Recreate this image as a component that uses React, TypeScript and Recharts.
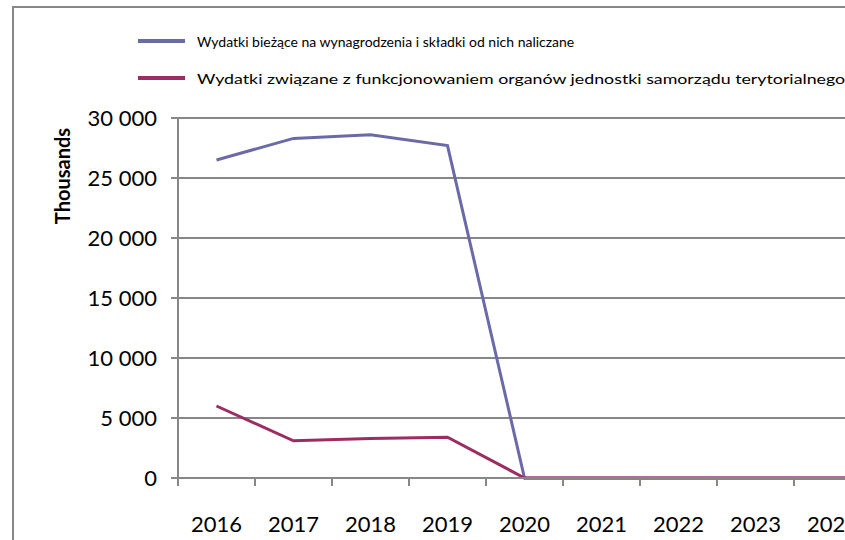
import React from 'react'
import { LineChart, Line, XAxis, YAxis, CartesianGrid, Label } from 'recharts'

// years shown on the category axis (the picture is cut off on the right)
const years = ['2016', '2017', '2018', '2019', '2020', '2021', '2022', '2023', '2024', '2025']

// values in thousands
const wynagrodzenia = [26500, 28300, 28600, 27700, 0, 0, 0, 0, 0, 0]
const organy = [6000, 3100, 3300, 3400, 0, 0, 0, 0, 0, 0]

const yTicks = [0, 5000, 10000, 15000, 20000, 25000, 30000]

const seriesNames = [
  'Wydatki bieżące na wynagrodzenia i składki od nich naliczane',
  'Wydatki związane z funkcjonowaniem organów jednostki samorządu terytorialnego',
]

const COLORS = ['#6a6aa8', '#9b2d62']
const GRID = '#878787'
const FONT = 'Lato, "Liberation Sans", sans-serif'

const PLOT_LEFT = 178
const PLOT_TOP = 118
const PLOT_W = 770
const PLOT_H = 360
const CHART_W = 1100
const CHART_H = 560
const HALF_BAND = PLOT_W / years.length / 2

const data = years.map((year, i) => ({
  year,
  a: wynagrodzenia[i],
  b: organy[i],
}))

const formatThousands = (v: number) =>
  String(v).replace(/\B(?=(\d{3})+(?!\d))/g, ' ')

// label in the middle of the band, tick mark on the band's left edge (Excel style)
function YearTick(props: any) {
  const { x, payload } = props
  const axisY = PLOT_TOP + PLOT_H
  return (
    <g>
      <line x1={x - HALF_BAND} y1={axisY} x2={x - HALF_BAND} y2={axisY + 8} stroke={GRID} strokeWidth={2} />
      <text x={x} y={axisY + 45} textAnchor="middle" dominantBaseline="central" fontSize={22} fill="#000" fontFamily={FONT}>
        {payload.value}
      </text>
    </g>
  )
}

export default function App() {
  return (
    <div style={{ position: 'absolute', left: 0, top: 0, width: 845, height: 540, overflow: 'hidden', background: '#fff' }}>
      <div
        style={{
          position: 'absolute',
          left: 12,
          top: 6,
          width: 1200,
          height: 700,
          border: `2px solid ${GRID}`,
          boxSizing: 'border-box',
        }}
      />
      <div style={{ position: 'absolute', left: 0, top: 0 }}>
        <LineChart
          width={CHART_W}
          height={CHART_H}
          data={data}
          margin={{ top: PLOT_TOP, left: PLOT_LEFT - 90, right: CHART_W - PLOT_LEFT - PLOT_W, bottom: CHART_H - PLOT_TOP - PLOT_H - 30 }}
        >
          <CartesianGrid vertical={false} stroke={GRID} strokeWidth={2} />
          <XAxis
            dataKey="year"
            height={30}
            padding={{ left: HALF_BAND, right: HALF_BAND }}
            axisLine={{ stroke: GRID, strokeWidth: 2 }}
            tickLine={false}
            tick={<YearTick />}
            interval={0}
          />
          <YAxis
            width={90}
            domain={[0, 30000]}
            ticks={yTicks}
            tickFormatter={formatThousands}
            axisLine={{ stroke: GRID, strokeWidth: 2 }}
            tickLine={{ stroke: GRID, strokeWidth: 2 }}
            tickSize={7}
            tickMargin={14}
            tick={{ fontSize: 22, fill: '#000', fontFamily: FONT }}
          >
            <Label
              content={() => (
                <text
                  x={62}
                  y={176}
                  transform="rotate(-90 62 176)"
                  textAnchor="middle"
                  dominantBaseline="central"
                  fontSize={20}
                  fontWeight="bold"
                  fontFamily={FONT}
                  fill="#000"
                >
                  Thousands
                </text>
              )}
            />
          </YAxis>
          <Line dataKey="a" name={seriesNames[0]} stroke={COLORS[0]} strokeWidth={3} dot={false} isAnimationActive={false} />
          <Line dataKey="b" name={seriesNames[1]} stroke={COLORS[1]} strokeWidth={3} dot={false} isAnimationActive={false} />
        </LineChart>
      </div>
      {seriesNames.map((name, i) => (
        <div
          key={name}
          style={{
            position: 'absolute',
            left: 138,
            top: 42 + i * 37 - 11,
            height: 20,
            display: 'flex',
            alignItems: 'center',
            whiteSpace: 'nowrap',
            fontFamily: FONT,
            fontSize: 14,
            color: '#000',
          }}
        >
          <span style={{ display: 'inline-block', width: 47, height: 4, background: COLORS[i], marginRight: 12, flexShrink: 0 }} />
          <span style={{ display: 'inline-block', transform: i === 1 ? 'scaleX(1.27)' : undefined, transformOrigin: 'left center' }}>
            {name}
          </span>
        </div>
      ))}
    </div>
  )
}
